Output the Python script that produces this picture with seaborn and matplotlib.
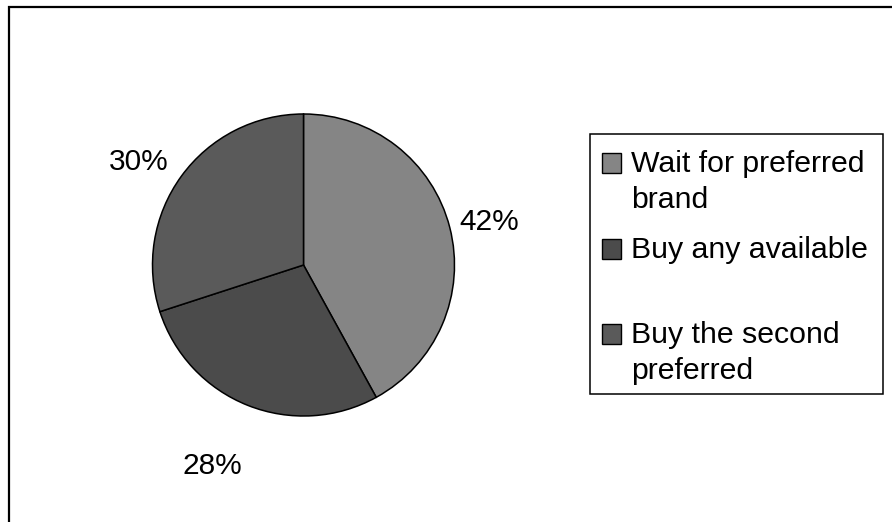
import seaborn as sns
import matplotlib.pyplot as plt
from matplotlib.patches import Rectangle

# data
categories = ["Wait for preferred\nbrand", "Buy any available", "Buy the second\npreferred"]
shares = [42, 28, 30]
slice_colors = ["#858585", "#4b4b4b", "#5a5a5a"]

sns.set_theme(style="white")
plt.rcParams['font.family'] = ['Liberation Sans', 'DejaVu Sans']

W, H = 892, 522
fig = plt.figure(figsize=(W / 100, H / 100), dpi=100)
fig.patch.set_facecolor("white")


def px(x, y):
    # pixel (from top-left) -> figure fraction
    return x / W, 1 - y / H


# outer frame, runs off the right and bottom edge
fig.patches.append(Rectangle(px(9, 560), 1000 / W, 553 / H, transform=fig.transFigure,
                             fill=False, edgecolor="black", lw=1.6, clip_on=False))

# pie
cx, cy, r = 303.5, 265, 151
pad = 1.05
left, top = px(cx - r * pad, cy - r * pad)
ax = fig.add_axes([left, top - 2 * r * pad / H, 2 * r * pad / W, 2 * r * pad / H])
palette = sns.color_palette(slice_colors)
wedges, texts, autotexts = ax.pie(shares, colors=palette, startangle=90, counterclock=False,
                                  autopct=lambda p: f"{p:.0f}%", pctdistance=1.3,
                                  wedgeprops=dict(edgecolor="black", linewidth=1.1),
                                  textprops=dict(fontsize=21.5, color="black"))
ax.set_xlim(-pad, pad)
ax.set_ylim(-pad, pad)
ax.set_aspect("auto")
ax.axis("off")

# nudge the percent labels to where the original chart has them (pixel centres)
label_spots = [(489, 222), (212, 466), (139, 162)]
for t, (lx, ly) in zip(autotexts, label_spots):
    t.set_position(((lx - cx) / r, (cy - ly) / r))

# legend box
bx0, by0, bx1, by1 = 590, 134, 883, 394
fig.patches.append(Rectangle(px(bx0, by1), (bx1 - bx0) / W, (by1 - by0) / H,
                             transform=fig.transFigure, fill=False, edgecolor="black",
                             lw=1.1))
first_baselines = [172, 258, 343]
line_step = 36
for lab, col, b in zip(categories, palette, first_baselines):
    fig.patches.append(Rectangle(px(602, b + 1), 19 / W, 20 / H, transform=fig.transFigure,
                                 facecolor=col, edgecolor="black", lw=1.0))
    for i, line in enumerate(lab.split("\n")):
        fig.text(*px(631, b + i * line_step), line, fontsize=21.8, ha="left",
                 va="baseline", color="black")

fig.savefig("out.png", dpi=100, facecolor="white")
